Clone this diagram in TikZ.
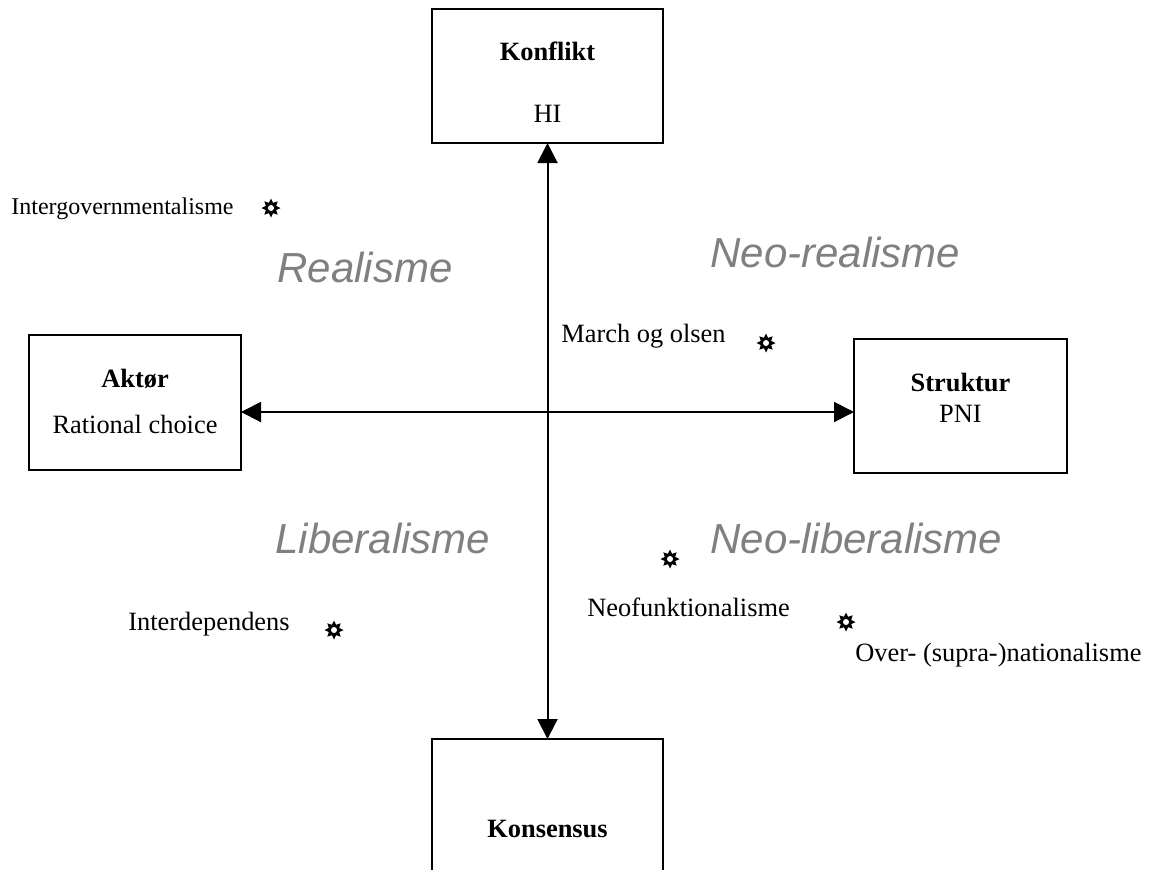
\documentclass[tikz,border=0pt]{standalone}
\usepackage{fontspec}
\setmainfont{Liberation Serif}
\setsansfont{Liberation Sans}
\usetikzlibrary{arrows.meta,shapes.geometric}
\definecolor{labelgray}{RGB}{128,128,128}
\begin{document}
\begin{tikzpicture}[x=0.5pt,y=-0.5pt,
  box/.style={draw,line width=1pt,rectangle,anchor=north west,inner sep=0,outer sep=0},
  txt/.style={font=\fontsize{13.2pt}{15pt}\selectfont,anchor=base west,inner sep=0},
  btxt/.style={font=\fontsize{13.2pt}{15pt}\selectfont\bfseries,anchor=base,inner sep=0},
  ctxt/.style={font=\fontsize{13.2pt}{15pt}\selectfont,anchor=base,inner sep=0},
  school/.style={font=\fontsize{21pt}{25pt}\selectfont\sffamily\itshape,text=labelgray,anchor=base west,inner sep=0},
  sun/.style={star,star points=8,star point ratio=1.7,fill=black,minimum size=9.5pt,inner sep=0},
  axis/.style={line width=1pt,{Triangle[length=10pt,width=10pt]}-{Triangle[length=10pt,width=10pt]}}]
\useasboundingbox (0,0) rectangle (1150,869);
\clip (0,0) rectangle (1150,869);
% boxes
\node[box,minimum width=115.5pt,minimum height=67pt] (konflikt) at (432,9) {};
\node[box,minimum width=106pt,minimum height=67.5pt] (aktor) at (29,335) {};
\node[box,minimum width=106.5pt,minimum height=67pt] (struktur) at (854,339) {};
\node[box,minimum width=115.5pt,minimum height=67pt] (konsensus) at (432,739) {};
% box texts
\node[btxt] (tkonflikt) at (547.5,60) {Konflikt};
\node[ctxt] (thi) at (547.5,122) {HI};
\node[btxt] (taktor) at (135,387) {Aktør};
\node[ctxt] (trc) at (135,433) {Rational choice};
\node[btxt] (tstruktur) at (960.5,391) {Struktur};
\node[ctxt] (tpni) at (960.5,422) {PNI};
\node[btxt] (tkonsensus) at (547.5,837) {Konsensus};
% axes
\coordinate (hy) at (0,412);
\draw[axis] (konflikt.south) -- (konsensus.north);
\draw[axis] (aktor.east |- hy) -- (struktur.west |- hy);
% schools
\node[school] (realisme) at (277,282) {Realisme};
\node[school] (neorealisme) at (710,267) {Neo-realisme};
\node[school] (liberalisme) at (275,553) {Liberalisme};
\node[school] (neoliberalisme) at (710,553) {Neo-liberalisme};
% theories
\node[txt,font=\fontsize{12pt}{14pt}\selectfont] (intergov) at (11,214) {Intergovernmentalisme};
\node[txt] (march) at (561,342) {March og olsen};
\node[txt] (neofunk) at (587,616) {Neofunktionalisme};
\node[txt] (over) at (855,661) {Over- (supra-)nationalisme};
\node[txt] (interdep) at (128,630) {Interdependens};
% suns
\foreach \n/\p in {s1/{(271,208)},s2/{(766,343)},s3/{(670,559)},s4/{(846,622)},s5/{(334,630)}}{
  \node[sun] (\n) at \p {};
  \fill[white] (\n.center) circle (1.5pt);
}
\end{tikzpicture}
\end{document}
